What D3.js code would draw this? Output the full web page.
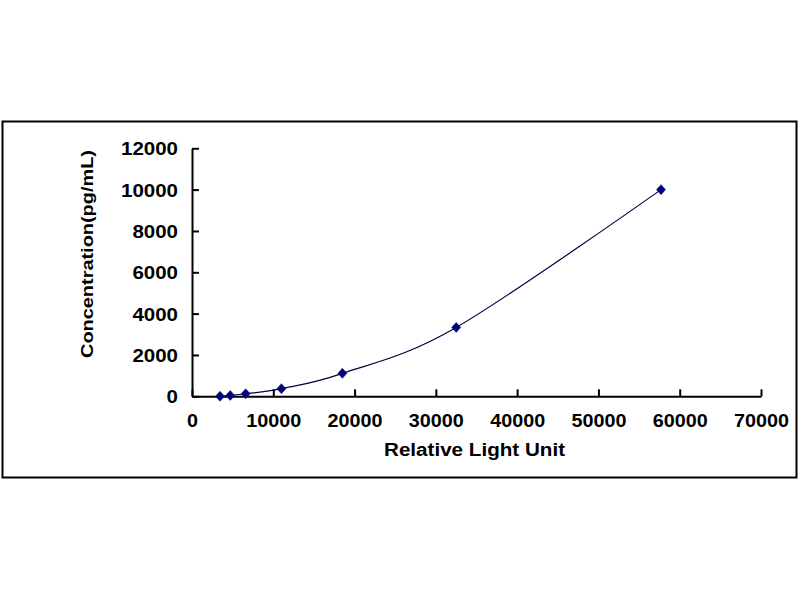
<!DOCTYPE html>
<meta charset="utf-8">
<script src="https://d3js.org/d3.v7.min.js"></script>
<style>
body { margin: 0; background: #fff; }
.tick_label, .axis_title {
  font-family: "Liberation Sans", Arial, sans-serif;
  font-weight: bold;
  fill: #000;
}
</style>
<body>
<script>

// standard curve readings
var rlu = [3450, 4700, 6600, 11000, 18500, 32500, 57700]
var conc = [0, 41, 123, 370, 1111, 3333, 10000]

var x_ticks = [0, 10000, 20000, 30000, 40000, 50000, 60000, 70000]
var y_ticks = [0, 2000, 4000, 6000, 8000, 10000, 12000]

var x_title = "Relative Light Unit"
var y_title = "Concentration(pg/mL)"

var width = 800
var height = 600

var svg = d3.select("body").append("svg")
            .attr("width", width)
            .attr("height", height)
            .style("display", "block")

// outer chart frame
svg.append("rect")
   .attr("x", 2.5)
   .attr("y", 121.5)
   .attr("width", 794)
   .attr("height", 356)
   .style("fill", "#fff")
   .style("stroke", "#000")
   .style("stroke-width", 2)

var x = d3.scaleLinear().domain([0, 70000]).range([192, 761])
var y = d3.scaleLinear().domain([0, 12000]).range([396.3, 148.3])

// x axis, ticks pointing inwards
var gx = svg.append("g")
            .attr("transform", "translate(0," + y(0) + ")")
            .call(d3.axisBottom(x).tickValues(x_ticks).tickSize(-7).tickSizeOuter(0).tickFormat(d3.format("d")))
gx.select(".domain").style("stroke", "#000").style("stroke-width", 2)
gx.selectAll(".tick line").style("stroke", "#000").style("stroke-width", 2)
gx.selectAll(".tick text")
  .attr("class", "tick_label")
  .attr("y", 30.5)
  .attr("dy", 0)
  .style("font-size", "18px")
  .attr("textLength", function(d) { return String(d).length * 11 })
  .attr("lengthAdjust", "spacingAndGlyphs")

// y axis
var gy = svg.append("g")
            .attr("transform", "translate(" + x(0) + ",0)")
            .call(d3.axisLeft(y).tickValues(y_ticks).tickSize(-7).tickSizeOuter(0).tickFormat(d3.format("d")))
gy.select(".domain").style("stroke", "#000").style("stroke-width", 2)
gy.selectAll(".tick line").style("stroke", "#000").style("stroke-width", 2)
gy.selectAll(".tick text")
  .attr("class", "tick_label")
  .attr("x", -14)
  .attr("dy", "0.36em")
  .style("font-size", "18px")
  .style("text-anchor", "end")
  .attr("textLength", function(d) { return String(d).length * 11.4 })
  .attr("lengthAdjust", "spacingAndGlyphs")

svg.selectAll(".tick text").attr("fill", "#000")

svg.append("text")
   .attr("class", "axis_title")
   .attr("transform", "translate(" + 474.5 + "," + 456 + ")")
   .style("font-size", "18px")
   .style("text-anchor", "middle")
   .attr("textLength", 181)
   .attr("lengthAdjust", "spacingAndGlyphs")
   .text(x_title)

svg.append("text")
   .attr("class", "axis_title")
   .attr("transform", "translate(" + 93 + "," + 254 + ") rotate(-90)")
   .style("font-size", "17px")
   .style("text-anchor", "middle")
   .attr("textLength", 208)
   .attr("lengthAdjust", "spacingAndGlyphs")
   .text(y_title)

var points = rlu.map(function(d, i) { return [d, conc[i]] })

// smoothed fit line
var line = d3.line()
             .x(function(d) { return x(d[0]) })
             .y(function(d) { return y(d[1]) })
             .curve(d3.curveCardinal.tension(0))

svg.append("path")
   .attr("d", line(points))
   .style("fill", "none")
   .style("stroke", "#000040")
   .style("stroke-width", 1.2)

// diamond markers
svg.selectAll(".marker")
   .data(points)
   .enter().append("path")
   .attr("class", "marker")
   .attr("transform", function(d) { return "translate(" + x(d[0]) + "," + y(d[1]) + ")" })
   .attr("d", "M0,-5L4.5,0L0,5L-4.5,0Z")
   .style("fill", "#000080")
   .style("stroke", "#000066")
   .style("stroke-width", 0.5)

</script>
</body>
